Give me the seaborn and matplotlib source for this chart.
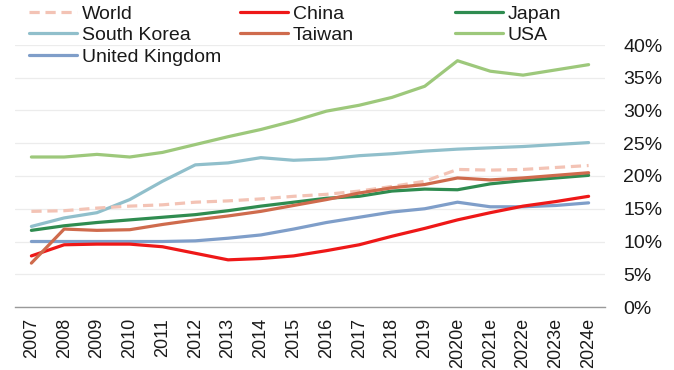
import matplotlib
matplotlib.use("Agg")
import matplotlib.pyplot as plt
import seaborn as sns
import pandas as pd
from matplotlib.lines import Line2D
from matplotlib.ticker import FuncFormatter, FixedLocator

years = ["2007", "2008", "2009", "2010", "2011", "2012", "2013", "2014", "2015",
         "2016", "2017", "2018", "2019", "2020e", "2021e", "2022e", "2023e", "2024e"]

world = [14.6, 14.7, 15.1, 15.4, 15.6, 16.0, 16.2, 16.5, 16.9, 17.2, 17.7, 18.4, 19.2, 21.0, 20.9, 21.0, 21.3, 21.6]
china = [7.8, 9.5, 9.6, 9.6, 9.2, 8.2, 7.2, 7.4, 7.8, 8.6, 9.5, 10.8, 12.0, 13.3, 14.4, 15.4, 16.1, 16.9]
japan = [11.7, 12.4, 12.9, 13.3, 13.7, 14.1, 14.7, 15.4, 16.0, 16.6, 16.9, 17.7, 18.0, 17.9, 18.8, 19.3, 19.7, 20.1]
south_korea = [12.3, 13.6, 14.4, 16.4, 19.2, 21.7, 22.0, 22.8, 22.4, 22.6, 23.1, 23.4, 23.8, 24.1, 24.3, 24.5, 24.8, 25.1]
taiwan = [6.7, 11.9, 11.7, 11.8, 12.6, 13.3, 13.9, 14.6, 15.5, 16.4, 17.4, 18.2, 18.7, 19.7, 19.4, 19.7, 20.1, 20.5]
usa = [22.9, 22.9, 23.3, 22.9, 23.6, 24.8, 26.0, 27.1, 28.4, 29.9, 30.8, 32.0, 33.7, 37.6, 36.0, 35.4, 36.2, 37.0]
uk = [10.0, 10.0, 10.0, 10.0, 10.0, 10.1, 10.5, 11.0, 11.9, 12.9, 13.7, 14.5, 15.0, 16.0, 15.3, 15.3, 15.5, 15.9]

y_ticks = [0, 5, 10, 15, 20, 25, 30, 35, 40]

series = {
    "World": world,
    "China": china,
    "Japan": japan,
    "South Korea": south_korea,
    "Taiwan": taiwan,
    "USA": usa,
    "United Kingdom": uk,
}
colors = {
    "World": "#f3c3b5",
    "China": "#ee1818",
    "Japan": "#2f8c50",
    "South Korea": "#90bfcb",
    "Taiwan": "#cf6b4d",
    "USA": "#9dc87b",
    "United Kingdom": "#7f9ec9",
}

rows = []
for name, vals in series.items():
    for yr, v in zip(years, vals):
        rows.append({"year": yr, "value": v, "series": name})
df = pd.DataFrame(rows)

sns.set_theme(style="white")
plt.rcParams["font.family"] = ["Liberation Sans", "DejaVu Sans"]
plt.rcParams["text.color"] = "#1a1a1a"

fig = plt.figure(figsize=(6.74, 3.70), dpi=100)
ax = fig.add_axes([15 / 674, 63 / 370, 590 / 674, 262 / 370])

draw_order = ["USA", "South Korea", "World", "United Kingdom", "China", "Japan", "Taiwan"]
for name in draw_order:
    sub = df[df["series"] == name]
    sns.lineplot(data=sub, x="year", y="value", ax=ax, color=colors[name],
                 linewidth=2.3, sort=False, legend=False,
                 dashes=False)
    if name == "World":
        ax.lines[-1].set_dashes([3.2, 1.8])

ax.set_xlim(-0.5, len(years) - 0.5)
ax.set_ylim(0, 40)
ax.set_xlabel("")
ax.set_ylabel("")

ax.set_xticks(range(len(years)))
ax.set_xticklabels(years, rotation=90, fontsize=13)
ax.xaxis.set_minor_locator(FixedLocator([i - 0.5 for i in range(len(years) + 1)]))
ax.tick_params(axis="x", which="major", length=0, pad=8, colors="#1a1a1a")
ax.tick_params(axis="x", which="minor", length=5, width=1, color="#9a9a9a", direction="out")

ax.yaxis.tick_right()
ax.set_yticks(y_ticks)
ax.yaxis.set_major_formatter(FuncFormatter(lambda v, p: f"{v:.0f}%"))
ax.tick_params(axis="y", length=0, pad=13, labelsize=14, colors="#1a1a1a")

ax.grid(axis="y", color="#ececec", linewidth=0.9)
ax.set_axisbelow(True)
for s in ["top", "left", "right"]:
    ax.spines[s].set_visible(False)
ax.spines["bottom"].set_color("#9a9a9a")
ax.spines["bottom"].set_linewidth(1)

def handle(name):
    if name == "World":
        return Line2D([], [], color=colors[name], linewidth=2.3, dashes=[3.2, 1.8])
    return Line2D([], [], color=colors[name], linewidth=2.3)

columns = [
    (["World", "South Korea", "United Kingdom"], 29),
    (["China", "Taiwan"], 240),
    (["Japan", "USA"], 455),
]
for names, xpx in columns:
    fig.legend([handle(n) for n in names], names,
               loc="upper left", bbox_to_anchor=(xpx / 674, 1 - 5 / 370),
               frameon=False, fontsize=14, handlelength=2.45, handletextpad=0.25,
               labelspacing=0.2, borderpad=0, borderaxespad=0)

fig.savefig("out.png", dpi=100)
